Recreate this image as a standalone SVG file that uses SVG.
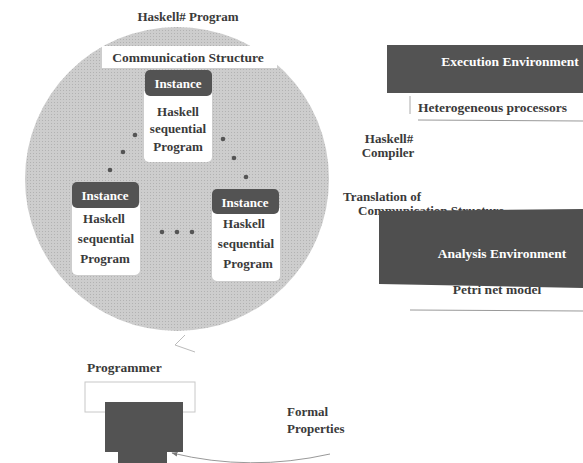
<svg xmlns="http://www.w3.org/2000/svg" width="583" height="463" viewBox="0 0 583 463" font-family="'Liberation Serif', 'Times New Roman', serif" font-weight="bold">
<defs>
<pattern id="dots" width="3" height="3" patternUnits="userSpaceOnUse">
<rect width="3" height="3" fill="#cdcdcd"/>
<rect width="1" height="1" fill="#b2b2b2"/>
</pattern>
<marker id="ah" viewBox="0 0 10 10" refX="9" refY="5" markerWidth="6" markerHeight="6" orient="auto-start-reverse">
<path d="M0,1 L10,5 L0,9 z" fill="#777"/>
</marker>
<style>
text{font-family:'Liberation Serif','Times New Roman',serif;font-weight:bold;fill:#3a3a3a}
.c{text-anchor:middle}
.w{fill:#ffffff}
.dark{fill:#535353}
.card{fill:#ffffff}
.dot{fill:#555}
.f13{font-size:13.5px}
.f12{font-size:13px}
</style>
</defs>
<rect width="583" height="463" fill="#ffffff"/>

<g id="program">
<text class="c f12" x="188" y="21">Haskell# Program</text>
<circle cx="177" cy="179" r="152" fill="url(#dots)"/>
</g>

<g id="comm-structure">
<rect x="102" y="46" width="175" height="22" fill="#ffffff"/>
<text class="c f13" x="188" y="62">Communication Structure</text>
</g>

<g id="instance-top">
<rect class="card" x="144" y="88" width="68" height="74" rx="5"/>
<rect class="dark" x="145" y="70" width="67" height="26" rx="5"/>
<text class="c f12 w" x="178" y="88">Instance</text>
<text class="c f12" x="178" y="116">Haskell</text>
<text class="c f12" x="178" y="133">sequential</text>
<text class="c f12" x="178" y="151">Program</text>
</g>

<g id="instance-left">
<rect class="card" x="72" y="200" width="68" height="75" rx="5"/>
<rect class="dark" x="72" y="182" width="67" height="26" rx="5"/>
<text class="c f12 w" x="105" y="200">Instance</text>
<text class="c f12" x="104" y="223">Haskell</text>
<text class="c f12" x="106" y="243">sequential</text>
<text class="c f12" x="105" y="263">Program</text>
</g>

<g id="instance-right">
<rect class="card" x="212" y="205" width="68" height="76" rx="5"/>
<rect class="dark" x="212" y="189" width="67" height="25" rx="5"/>
<text class="c f12 w" x="245" y="207">Instance</text>
<text class="c f12" x="244" y="228">Haskell</text>
<text class="c f12" x="246" y="248">sequential</text>
<text class="c f12" x="248" y="268">Program</text>
</g>

<g id="ellipsis">
<circle class="dot" cx="135" cy="135" r="2.3"/>
<circle class="dot" cx="123" cy="152" r="2.3"/>
<circle class="dot" cx="110" cy="170" r="2.3"/>
<circle class="dot" cx="223" cy="139" r="2.3"/>
<circle class="dot" cx="234" cy="158" r="2.3"/>
<circle class="dot" cx="246" cy="177" r="2.3"/>
<circle class="dot" cx="162" cy="232" r="2.3"/>
<circle class="dot" cx="177" cy="232" r="2.3"/>
<circle class="dot" cx="192" cy="232" r="2.3"/>
</g>

<g id="execution-env">
<rect class="dark" x="387" y="45" width="196" height="48"/>
<text class="c f13 w" x="510" y="66">Execution Environment</text>
<line x1="410" y1="96" x2="410" y2="114" stroke="#aaa" stroke-width="1"/>
<text class="f13" x="418" y="112">Heterogeneous processors</text>
<line x1="418" y1="120" x2="583" y2="121" stroke="#999" stroke-width="1"/>
</g>

<g id="compiler">
<text class="c f12" x="389" y="143">Haskell#</text>
<text class="c f12" x="388" y="157">Compiler</text>
</g>

<g id="translation">
<text class="f12" x="343" y="201">Translation of</text>
<text class="f12" x="358" y="215">Communication Structure</text>
</g>

<g id="analysis-env">
<text class="c f13" x="497" y="294">Petri net model</text>
<polygon fill="#4f4f4f" points="379,211 583,209 583,288 379,284"/>
<text class="c f13 w" x="502" y="258">Analysis Environment</text>
<line x1="410" y1="310" x2="583" y2="311" stroke="#999" stroke-width="1"/>
</g>

<g id="programmer">
<text class="f13" x="87" y="372">Programmer</text>
<rect x="85" y="382" width="110" height="30" fill="none" stroke="#c8c8c8" stroke-width="1"/>
<path class="dark" d="M105,402 H183 V452 H167 V463 H118 V452 H105 Z"/>
</g>

<g id="formal">
<text class="f12" x="287" y="416">Formal</text>
<text class="f12" x="287" y="433">Properties</text>
</g>

<g id="connectors" fill="none" stroke="#999" stroke-width="1">
<path d="M185,335 L175,345 L195,352" stroke="#bbb"/>
<path d="M330,454 Q250,472 172,453" marker-end="url(#ah)"/>
</g>
</svg>
